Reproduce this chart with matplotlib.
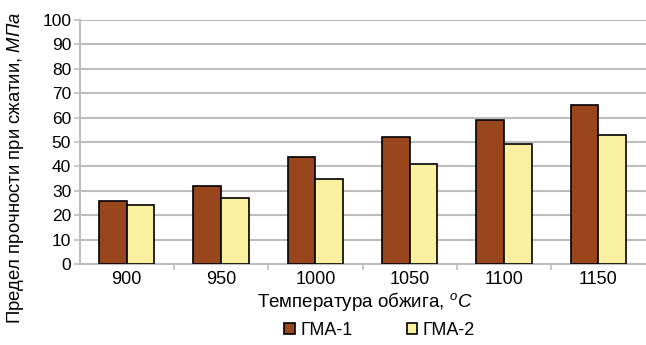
import numpy as np
import matplotlib
matplotlib.use("Agg")
import matplotlib.pyplot as plt
from matplotlib.ticker import FixedLocator

plt.rcParams["font.family"] = ["Liberation Sans", "DejaVu Sans"]
plt.rcParams["mathtext.fontset"] = "custom"
plt.rcParams["mathtext.rm"] = "Liberation Sans"
plt.rcParams["mathtext.it"] = "Liberation Sans:italic"

# data
temps = ["900", "950", "1000", "1050", "1100", "1150"]
gma1 = [26, 32, 44, 52, 59, 65]
gma2 = [24, 27, 35, 41, 49, 53]
series_names = ["ГМА-1", "ГМА-2"]

col1 = "#9a461c"
col2 = "#f9f0a0"
grid_col = "#bdbdbd"

fig = plt.figure(figsize=(6.46, 3.45), dpi=100)
ax = fig.add_axes([79.5 / 646, 81 / 345, 566 / 646, 244 / 345])

x = np.arange(len(temps))
w = 0.295
ax.bar(x - w / 2, gma1, w, color=col1, edgecolor="black", linewidth=1.2,
       label=series_names[0], zorder=3)
ax.bar(x + w / 2, gma2, w, color=col2, edgecolor="black", linewidth=1.2,
       label=series_names[1], zorder=3)

ax.set_xlim(-0.5, len(temps) - 0.5)
ax.set_ylim(0, 100)
ax.set_yticks(range(0, 101, 10))
ax.yaxis.grid(True, color=grid_col, linewidth=1.5, zorder=0)
ax.set_axisbelow(True)

ax.set_xticks(x)
ax.set_xticklabels(temps)
ax.xaxis.set_minor_locator(FixedLocator(np.arange(0.5, len(temps) - 0.5, 1)))
ax.tick_params(axis="x", which="major", length=0, pad=5, labelsize=13)
ax.tick_params(axis="x", which="minor", length=4, color=grid_col, width=1.2)
ax.tick_params(axis="y", length=4, color=grid_col, width=1.2, pad=2, labelsize=12.5)

for side in ["top", "right"]:
    ax.spines[side].set_visible(False)
for side in ["left", "bottom"]:
    ax.spines[side].set_color(grid_col)
    ax.spines[side].set_linewidth(1.5)

ax.set_xlabel("Температура обжига, $^{\\mathit{o}}\\mathit{C}$", fontsize=13.5)
ax.xaxis.set_label_coords(0.505, -0.105)
ax.set_ylabel("Предел прочности при сжатии, $\\mathit{МПа}$", fontsize=13.3)
ax.yaxis.set_label_coords(-0.095, 0.395)

leg = ax.legend(loc="upper center", bbox_to_anchor=(0.53, -0.2), ncol=2, frameon=False,
                fontsize=13, handlelength=0.6, handleheight=0.6, columnspacing=3.0,
                handletextpad=0.3, borderpad=0)

fig.savefig("out.png", dpi=100)
